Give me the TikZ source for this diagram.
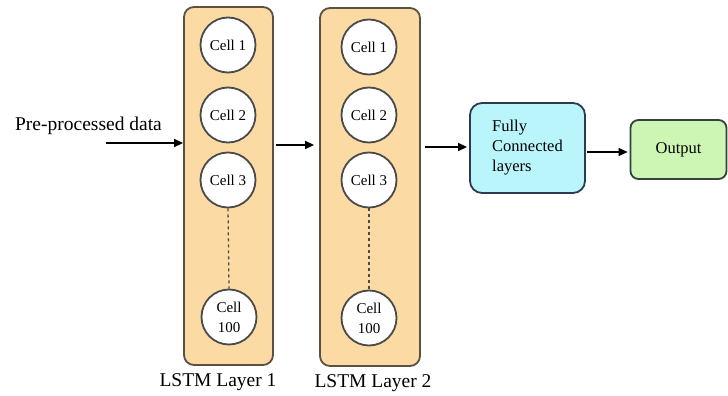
\documentclass[tikz,border=0pt]{standalone}
\usepackage{fontspec}
\setmainfont{Liberation Serif}
\usetikzlibrary{arrows.meta}
\definecolor{layerfill}{HTML}{FBDAA3}
\definecolor{layerdraw}{HTML}{5A5142}
\definecolor{fcfill}{HTML}{B9F5FB}
\definecolor{fcdraw}{HTML}{2C3B4D}
\definecolor{outfill}{HTML}{CDF5B3}
\definecolor{outdraw}{HTML}{34443A}
\definecolor{celldraw}{HTML}{4A4A4A}
\begin{document}
\begin{tikzpicture}[x=1pt,y=-1pt,
  layerbox/.style={draw=layerdraw,fill=layerfill,line width=1.8pt,rounded corners=10pt,
    minimum height=358pt,inner sep=0pt},
  cell/.style={circle,draw=celldraw,fill=white,line width=1.8pt,minimum size=55pt,
    inner sep=0pt,align=center,font=\fontsize{15}{20}\selectfont},
  caption/.style={font=\fontsize{19.5}{23}\selectfont,inner sep=0pt},
  arr/.style={-{Triangle[length=9pt,width=8pt]},line width=1.5pt},
  blockbox/.style={line width=1.8pt,inner sep=0pt,align=left,font=\fontsize{16.5}{20}\selectfont}
]
\useasboundingbox (0,0) rectangle (728,396);

% LSTM layers
\node[layerbox,minimum width=89pt] (l1) at (228.5,186) {};
\node[layerbox,minimum width=100pt] (l2) at (370,187) {};

% cells of layer 1
\node[cell] (a1) at (228,45) {Cell 1};
\node[cell] (a2) at (228,115) {Cell 2};
\node[cell] (a3) at (228,180) {Cell 3};
\node[cell] (a100) at (229,317) {Cell\\100};
\draw[dashed,celldraw,line width=1.3pt] (a3.south) -- (a100.north);

% cells of layer 2
\node[cell] (b1) at (369,47) {Cell 1};
\node[cell] (b2) at (369,115) {Cell 2};
\node[cell] (b3) at (369,180) {Cell 3};
\node[cell] (b100) at (369,318) {Cell\\100};
\draw[dashed,celldraw,line width=1.3pt] (b3.south) -- (b100.north);

% layer captions
\node[caption] (c1) at (218,382) {LSTM Layer 1};
\node[caption] (c2) at (373,383) {LSTM Layer 2};

% dense part
\node[blockbox,draw=fcdraw,fill=fcfill,rounded corners=12pt,minimum width=115pt,minimum height=90pt]
  (fc) at (527.5,148) {Fully\\Connected\\layers};
\node[blockbox,draw=outdraw,fill=outfill,rounded corners=8pt,minimum width=96pt,minimum height=59pt]
  (out) at (678.5,149.5) {Output};

% input
\node[caption] (inlabel) at (88.5,126) {Pre-processed data};
\coordinate (in) at (106,143);
\coordinate (h1) at (0,145);
\coordinate (h2) at (0,147);
\coordinate (h3) at (0,152);

% connectors
\draw[arr] (in) -- (in -| l1.west);
\draw[arr,shorten <=2pt,shorten >=5pt] (l1.east |- h1) -- (l2.west |- h1);
\draw[arr,shorten <=4pt,shorten >=2pt] (l2.east |- h2) -- (fc.west |- h2);
\draw[arr,shorten <=1pt,shorten >=2pt] (fc.east |- h3) -- (out.west |- h3);
\end{tikzpicture}
\end{document}
